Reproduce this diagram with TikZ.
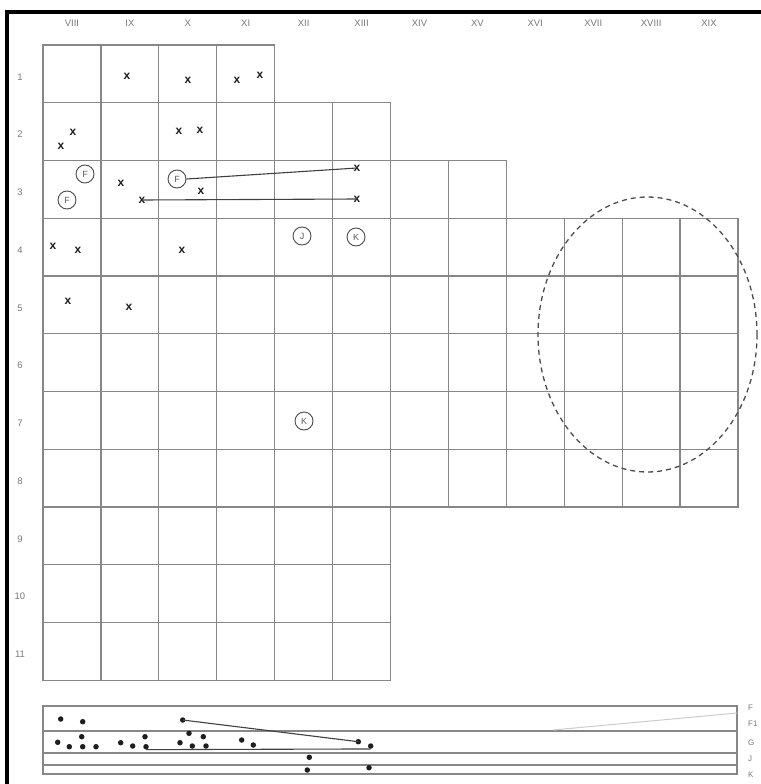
\documentclass[tikz,border=0pt]{standalone}
\usepackage{fontspec}
\setmainfont{Liberation Sans}
\definecolor{gridc}{RGB}{135,135,135}
\definecolor{labc}{RGB}{120,120,120}
\definecolor{markc}{RGB}{30,30,30}
\begin{document}
\begin{tikzpicture}[x=1bp,y=-1bp,
  gline/.style={draw=gridc,line width=1.3bp,line cap=rect},
  lab/.style={text=labc,inner sep=0,font=\fontsize{9.5}{10}\selectfont},
  slab/.style={text=labc,inner sep=0,anchor=west,font=\fontsize{8}{9}\selectfont},
  xm/.style={text=markc,inner sep=0,font=\bfseries\fontsize{12}{12}\selectfont},
  circ/.style={circle,draw=black!70,line width=0.9bp,minimum size=18bp,inner sep=0,text=black!65,font=\fontsize{9}{9}\selectfont},
  dot/.style={circle,fill=markc,minimum size=5.5bp,inner sep=0},
  link/.style={draw=black!75,line width=1.1bp},
  border/.style={draw=black,line width=3.5bp}]
\useasboundingbox (0,0) rectangle (761,784);
% frame
\draw[border] (7,784) -- (7,12) -- (761,12);
% grid
\def\cw{57.917}\def\rh{57.75}
% horizontal lines: boundary index / number of columns spanned
\foreach \j/\n in {0/4,1/6,2/8,3/12,4/12,5/12,6/12,7/12,8/12,9/6,10/6,11/6}{
  \draw[gline] (43,{45+\j*\rh}) -- ({43+\n*\cw},{45+\j*\rh});
}
% vertical lines: column boundary / first row / last row
\foreach \c/\a/\b in {0/0/11,1/0/11,2/0/11,3/0/11,4/0/11,5/1/11,6/1/11,7/2/8,8/2/8,9/3/8,10/3/8,11/3/8,12/3/8}{
  \draw[gline] ({43+\c*\cw},{45+\a*\rh}) -- ({43+\c*\cw},{45+\b*\rh});
}
% column headers
\foreach \t [count=\i] in {VIII,IX,X,XI,XII,XIII,XIV,XV,XVI,XVII,XVIII,XIX}{
  \node[lab] (h\i) at ({43+(\i-0.5)*\cw},23) {\t};
}
% row labels
\foreach \i in {1,...,11}{
  \node[lab] (r\i) at (20,{45+(\i-0.5)*\rh+3}) {\i};
}
% x marks
\node[xm] (xa) at (127,76) {x};
\node[xm] (xb) at (188,80) {x};
\node[xm] (xc) at (237,80) {x};
\node[xm] (xd) at (260,75) {x};
\node[xm] (xe) at (61,146) {x};
\node[xm] (xf) at (73,132) {x};
\node[xm] (xg) at (179,131) {x};
\node[xm] (xh) at (200,130) {x};
\node[xm] (xi) at (121,183) {x};
\node[xm] (xj) at (142,200) {x};
\node[xm] (xk) at (201,191) {x};
\node[xm] (xl) at (357,168) {x};
\node[xm] (xm1) at (357,199) {x};
\node[xm] (xn) at (53,246) {x};
\node[xm] (xo) at (78,250) {x};
\node[xm] (xp) at (182,250) {x};
\node[xm] (xq) at (68,301) {x};
\node[xm] (xr) at (129,307) {x};
% circled letters
\node[circ] (fa) at (85,174) {F};
\node[circ] (fb) at (67,200) {F};
\node[circ] (fc) at (177,179) {F};
\node[circ] (ja) at (302,236) {J};
\node[circ] (ka) at (356,237) {K};
\node[circ] (kb) at (304,421) {K};
% connecting lines in grid
\draw[link] (fc.east) -- (xl.center);
\draw[link] (xj.center) -- (xm1.center);
% dashed ellipse
\draw[draw=black!70,line width=1.3bp,dash pattern=on 5bp off 4bp] (647.5,334.5) ellipse [x radius=109.5,y radius=137.5];
% bottom strip
\draw[gline] (43,706) rectangle (737,774);
\draw[gline] (43,731) -- (737,731);
\draw[gline] (43,753) -- (737,753);
\draw[gline] (43,765) -- (737,765);
\draw[draw=black!20,line width=1bp] (553,730) -- (737,713);
\node[slab] (sF) at (748,708) {F};
\node[slab] (sF1) at (748,724) {F1};
\node[slab] (sG) at (748,743) {G};
\node[slab] (sJ) at (748,759) {J};
\node[slab] (sK) at (748,775) {K};
% dots
\foreach \n/\px/\py in {d1/60.7/719, d2/82.7/721.7, d3/182.7/720,
  d4/57.7/742.3, d5/69.3/746.7, d6/81.7/736.7, d7/82.7/746.7, d8/96/746.7,
  d9/120.7/742.7, d10/132.7/746, d11/145/736.7, d12/146/746.7, d13/180/742.7,
  d14/189/733.3, d15/192.3/746, d16/203.3/736.7, d17/206/746,
  d18/241.7/740, d19/253.3/745, d20/358.3/741.7, d21/370.7/746,
  d22/309.3/757.3, d23/307.3/770, d24/369/767.7}{
  \node[dot] (\n) at (\px,\py) {};
}
\draw[link] (d3.center) -- (d20.center);
\draw[link] (d12.south) -- (d21.south);
\end{tikzpicture}
\end{document}
